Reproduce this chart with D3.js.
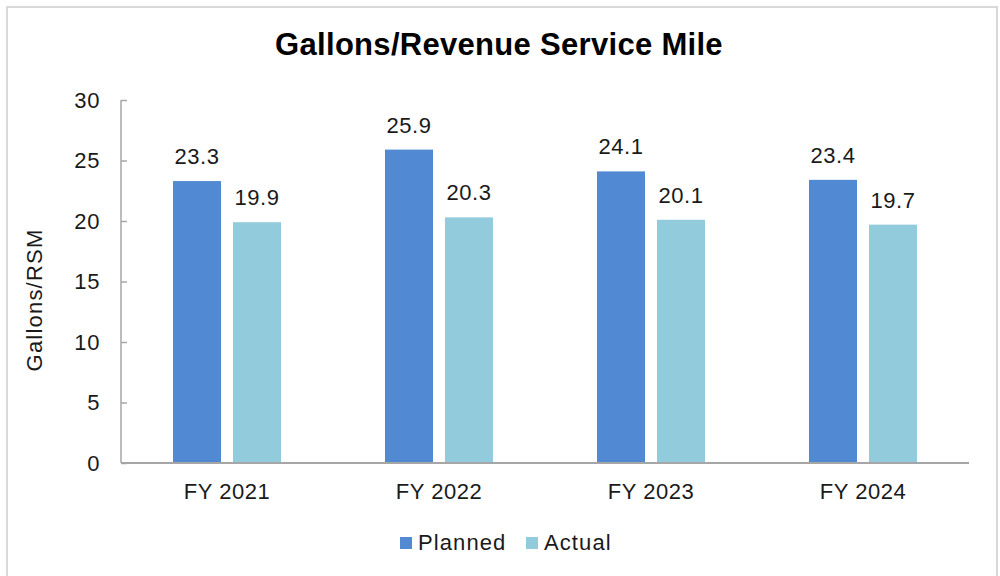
<!DOCTYPE html>
<html>
<head>
<meta charset="utf-8">
<script src="https://cdn.jsdelivr.net/npm/d3@7"></script>
<style>
  html, body { margin: 0; padding: 0; background: #fff; }
  svg { display: block; font-family: "Liberation Sans", Arial, sans-serif; }
</style>
</head>
<body>
<svg id="chart" width="1000" height="576"></svg>
<script>
// Fuel use per revenue service mile, planned vs. actual
const categories = ["FY 2021", "FY 2022", "FY 2023", "FY 2024"];
const seriesNames = ["Planned", "Actual"];
const planned = [23.3, 25.9, 24.1, 23.4];
const actual = [19.9, 20.3, 20.1, 19.7];
const yTicks = [0, 5, 10, 15, 20, 25, 30];
const colors = ["#5189d3", "#92cbdc"];

const svg = d3.select("#chart");
const textColor = "#1a1a1a";
const axisColor = "#a6a6a6";

// outer frame
svg.append("rect")
  .attr("x", 7).attr("y", 7)
  .attr("width", 990).attr("height", 600)
  .attr("fill", "none")
  .attr("stroke", "#d9d9d9")
  .attr("stroke-width", 2);

const plot = { left: 121, right: 969, top: 100, bottom: 463 };

const x0 = d3.scaleBand().domain(categories).range([plot.left, plot.right]).padding(0);
const x1 = d3.scaleBand().domain(seriesNames).range([52, 160]).paddingInner(0.2).paddingOuter(0);
const y = d3.scaleLinear().domain([0, 30]).range([plot.bottom, plot.top]);
const color = d3.scaleOrdinal().domain(seriesNames).range(colors);

// title
svg.append("text")
  .attr("x", 499).attr("y", 55)
  .attr("text-anchor", "middle")
  .attr("font-size", 31)
  .attr("font-weight", "bold")
  .attr("letter-spacing", 0.3)
  .attr("fill", "#000")
  .text("Gallons/Revenue Service Mile");

// y axis
const yAxis = svg.append("g")
  .attr("transform", `translate(${plot.left},0)`)
  .call(d3.axisRight(y).tickValues(yTicks).tickSize(6).tickFormat(d3.format("d")));
yAxis.select(".domain").remove();
yAxis.selectAll(".tick line").attr("stroke", axisColor).attr("stroke-width", 1.5);
yAxis.selectAll(".tick text").remove();
yAxis.append("line")
  .attr("x1", 0).attr("x2", 0)
  .attr("y1", plot.top).attr("y2", plot.bottom)
  .attr("stroke", axisColor).attr("stroke-width", 1.5);

// y tick labels, right aligned left of the axis
svg.append("g").selectAll("text")
  .data(yTicks)
  .join("text")
  .attr("x", 100)
  .attr("y", d => y(d))
  .attr("dy", "0.36em")
  .attr("text-anchor", "end")
  .attr("font-size", 22)
  .attr("letter-spacing", 0.6)
  .attr("fill", textColor)
  .text(d => d);

// y axis title
svg.append("text")
  .attr("transform", "translate(42,300) rotate(-90)")
  .attr("text-anchor", "middle")
  .attr("font-size", 22)
  .attr("letter-spacing", 1.2)
  .attr("fill", textColor)
  .text("Gallons/RSM");

// bars
const rows = categories.map((c, i) => ({ cat: c, values: [
  { key: "Planned", value: planned[i] },
  { key: "Actual", value: actual[i] }
]}));

const groups = svg.append("g").selectAll("g")
  .data(rows)
  .join("g")
  .attr("transform", d => `translate(${x0(d.cat)},0)`);

groups.selectAll("rect")
  .data(d => d.values)
  .join("rect")
  .attr("x", d => x1(d.key))
  .attr("width", x1.bandwidth())
  .attr("y", d => y(d.value))
  .attr("height", d => y(0) - y(d.value))
  .attr("fill", d => color(d.key));

groups.selectAll("text.value")
  .data(d => d.values)
  .join("text")
  .attr("class", "value")
  .attr("x", d => x1(d.key) + x1.bandwidth() / 2)
  .attr("y", d => y(d.value) - 17)
  .attr("text-anchor", "middle")
  .attr("font-size", 22)
  .attr("letter-spacing", 0.5)
  .attr("fill", textColor)
  .text(d => d3.format(".1f")(d.value));

// x axis line
svg.append("line")
  .attr("x1", plot.left).attr("x2", plot.right)
  .attr("y1", plot.bottom).attr("y2", plot.bottom)
  .attr("stroke", axisColor).attr("stroke-width", 2);

// category labels
svg.append("g").selectAll("text")
  .data(categories)
  .join("text")
  .attr("x", d => x0(d) + x0.bandwidth() / 2)
  .attr("y", 499)
  .attr("text-anchor", "middle")
  .attr("font-size", 22)
  .attr("letter-spacing", 0.5)
  .attr("fill", textColor)
  .text(d => d);

// legend
const legendItems = [
  { key: "Planned", x: 400 },
  { key: "Actual", x: 526 }
];
const legend = svg.append("g").selectAll("g")
  .data(legendItems)
  .join("g")
  .attr("transform", d => `translate(${d.x},0)`);
legend.append("rect")
  .attr("x", 0).attr("y", 537)
  .attr("width", 12).attr("height", 12)
  .attr("fill", d => color(d.key));
legend.append("text")
  .attr("x", 18).attr("y", 550)
  .attr("font-size", 22)
  .attr("letter-spacing", 1.1)
  .attr("fill", textColor)
  .text(d => d.key);
</script>
</body>
</html>
